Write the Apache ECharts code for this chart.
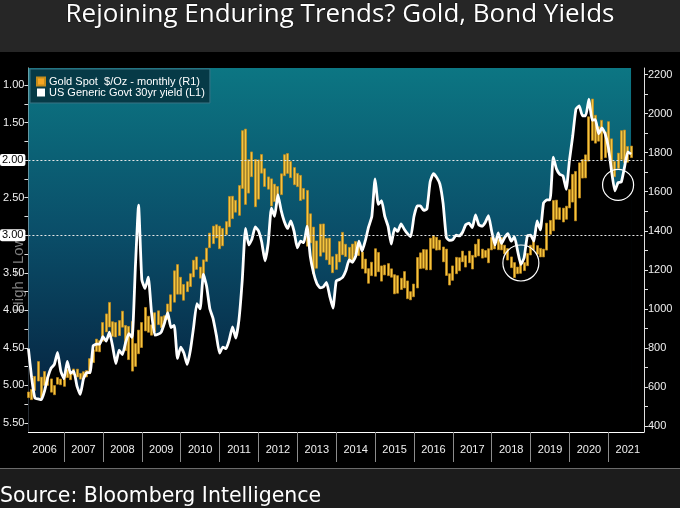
<!DOCTYPE html>
<html>
<head>
<meta charset="utf-8">
<script src="https://cdn.jsdelivr.net/npm/echarts@6/dist/echarts.min.js"></script>
<style>html,body{margin:0;padding:0;background:#000}#c{width:680px;height:508px}</style>
</head>
<body>
<div id="c"></div>
<script>
// ---- data ----
const years = ['2006','2007','2008','2009','2010','2011','2012','2013','2014','2015','2016','2017','2018','2019','2020','2021'];
const startMonth = 2; // axis starts Feb 2006, ends Dec 2021
// Gold spot monthly low / high ($/oz), Feb 2006 .. Aug 2021
const goldLow = [
  545,535,582,630,543,608,608,573,560,614,611,
  603,648,637,662,651,640,649,651,668,725,782,780,
  834,882,907,859,856,863,906,786,740,681,705,770,
  802,887,880,865,882,919,904,931,945,987,1034,1075,
  1075,1044,1088,1114,1163,1202,1157,1176,1243,1313,1334,1363,
  1308,1323,1380,1420,1462,1495,1479,1617,1535,1593,1677,1523,
  1562,1695,1627,1613,1527,1550,1564,1585,1682,1694,1672,1636,
  1626,1555,1562,1321,1338,1180,1208,1270,1290,1251,1227,1185,
  1202,1240,1277,1268,1240,1240,1280,1273,1206,1183,1131,1170,
  1167,1190,1142,1174,1170,1162,1077,1080,1099,1107,1052,1046,
  1062,1107,1206,1208,1200,1200,1310,1301,1302,1241,1171,1122,
  1146,1180,1195,1241,1214,1236,1204,1265,1271,1260,1264,1236,
  1302,1307,1303,1302,1282,1250,1211,1160,1180,1182,1196,1221,
  1276,1302,1280,1266,1266,1301,1382,1400,1459,1458,1445,1459,
  1517,1547,1451,1568,1670,1671,1757,1863,1849,1859,1764,1775,
  1802,1717,1677,1720,1765,1750,1751,1775
];
const goldHigh = [
  574,587,654,730,650,679,650,641,607,648,640,
  653,690,673,692,691,669,678,684,745,790,845,837,
  930,974,1033,934,930,940,988,915,910,935,822,891,
  930,1007,962,918,980,990,960,965,1025,1072,1195,1227,
  1162,1125,1139,1180,1249,1266,1214,1251,1311,1388,1424,1431,
  1424,1412,1447,1576,1577,1556,1632,1913,1921,1764,1804,1765,
  1763,1791,1718,1676,1666,1639,1627,1692,1790,1796,1755,1724,
  1694,1684,1617,1607,1487,1419,1348,1434,1435,1361,1362,1267,
  1280,1345,1392,1331,1315,1332,1345,1323,1291,1255,1206,1239,
  1308,1289,1220,1224,1232,1205,1175,1170,1157,1191,1143,1088,
  1127,1263,1287,1304,1303,1362,1375,1367,1352,1317,1306,1180,
  1220,1264,1262,1296,1272,1296,1274,1331,1357,1306,1299,1308,
  1366,1361,1356,1365,1326,1309,1266,1237,1214,1243,1237,1284,
  1326,1346,1324,1310,1306,1439,1453,1555,1557,1518,1516,1526,
  1611,1689,1704,1748,1765,1789,1984,2075,1992,1933,1966,1906,
  1959,1871,1755,1798,1913,1916,1832,1834
];
// US Generic Govt 30yr yield (%), Feb 2006 .. Aug 2021
const yield30 = [
  4.51,4.90,5.17,5.18,5.19,5.07,4.89,4.77,4.72,4.56,4.81,
  4.91,4.68,4.84,4.81,5.01,5.12,4.91,4.83,4.83,4.47,4.45,4.45,
  4.35,4.41,4.29,4.48,4.71,4.53,4.59,4.43,4.31,4.36,3.44,2.60,
  3.59,3.71,3.56,4.03,4.33,4.32,4.29,4.17,4.03,4.23,4.20,4.64,
  4.49,4.57,4.72,4.53,4.22,3.91,3.98,3.52,3.68,3.98,4.11,4.33,
  4.57,4.49,4.51,4.39,4.22,4.37,4.12,3.60,2.91,3.13,3.05,2.89,
  2.94,3.09,3.34,3.11,2.64,2.75,2.46,2.67,2.82,2.91,2.81,2.95,
  3.17,3.08,3.10,2.88,3.28,3.50,3.64,3.70,3.69,3.63,3.81,3.97,
  3.61,3.59,3.56,3.47,3.33,3.36,3.28,3.08,3.21,3.07,2.89,2.75,
  2.25,2.59,2.54,2.75,2.88,3.12,2.91,2.95,2.85,2.92,2.98,3.02,
  2.75,2.61,2.61,2.67,2.65,2.29,2.18,2.23,2.32,2.58,3.03,3.07,
  3.06,3.00,3.01,2.96,2.86,2.84,2.90,2.73,2.86,2.88,2.83,2.74,
  2.95,3.13,2.97,3.11,3.03,2.98,3.08,3.02,3.21,3.39,3.30,3.01,
  3.00,3.08,2.81,2.93,2.57,2.53,2.53,1.96,2.12,2.19,2.21,2.39,
  2.00,1.68,1.32,1.28,1.41,1.41,1.19,1.47,1.46,1.65,1.57,1.65,
  1.83,2.15,2.41,2.30,2.29,2.09,1.89,1.92
];
const yieldLabels = [1.00,1.50,2.50,3.50,4.00,4.50,5.00,5.50];
const yieldTicks = [1,1.25,1.5,1.75,2,2.25,2.5,2.75,3,3.25,3.5,3.75,4,4.25,4.5,4.75,5,5.25,5.5];
const yieldRefLines = [2.00, 3.00];
const goldLabels = [400,600,800,1000,1200,1400,1600,1800,2000,2200];
const goldTicks = [400,500,600,700,800,900,1000,1100,1200,1300,1400,1500,1600,1700,1800,1900,2000,2100,2200];
const goldLast = 1801;
const circleMarks = [['2018-10', 3.37, 36], ['2021-04', 2.33, 31]];
const goldName = 'Gold Spot  $/Oz - monthly (R1)';
const yieldName = 'US Generic Govt 30yr yield (L1)';

// ---- build ----
const categories = [];
years.forEach(y => { for (let m = 1; m <= 12; m++) { if (y === '2006' && m < startMonth) continue; categories.push(y + '-' + String(m).padStart(2,'0')); } });
const goldData = goldLow.map((l, i) => [l, goldHigh[i], l, goldHigh[i]]);
const lastDataCat = categories[yield30.length - 1];

const chart = echarts.init(document.getElementById('c'), null, {renderer: 'canvas'});
const axisFont = {color: '#f0f0f0', fontSize: 11, fontFamily: 'Liberation Sans'};
chart.setOption({
  animation: false,
  backgroundColor: '#000',
  title: [
    {text: 'Rejoining Enduring Trends? Gold, Bond Yields', left: 'center', top: 2, padding: 0,
     textStyle: {color: '#fff', fontSize: 26, fontWeight: 'normal', fontFamily: 'Open Sans',
                 textBorderColor: '#111', textBorderWidth: 1}},
    {text: 'Source: Bloomberg Intelligence', left: 0, top: 486, padding: 0,
     textStyle: {color: '#fff', fontSize: 20.5, fontWeight: 'normal', fontFamily: 'DejaVu Sans'}}
  ],
  graphic: [
    {type: 'rect', z: -10, shape: {x: 0, y: 0, width: 680, height: 52}, style: {fill: '#262626'}},
    {type: 'rect', z: -10, shape: {x: 0, y: 469, width: 680, height: 39}, style: {fill: '#1c1c1c'}},
    {type: 'line', z: -10, shape: {x1: 0, y1: 468.5, x2: 680, y2: 468.5}, style: {stroke: '#6a6a6a', lineWidth: 1}},
    {type: 'text', z: -5, x: 11, y: 312, rotation: Math.PI / 2,
     style: {text: 'High = Low', fill: 'rgba(150,150,150,0.85)', font: '15px "Liberation Sans"'}}
  ],
  legend: {
    orient: 'vertical', left: 30, top: 69, padding: [7, 5, 5, 6], itemGap: 0,
    itemWidth: 8, itemHeight: 8,
    backgroundColor: 'rgba(6,52,64,0.9)', borderColor: '#3b7484', borderWidth: 1,
    textStyle: {color: '#fff', fontSize: 11, fontFamily: 'Liberation Sans', lineHeight: 11, padding: [0,0,0,-1]},
    data: [
      {name: goldName, icon: 'rect', itemStyle: {color: '#f5a623'}},
      {name: yieldName, icon: 'rect', itemStyle: {color: '#ffffff'}}
    ]
  },
  grid: {left: 28, right: 36, top: 68, bottom: 76, containLabel: false},
  xAxis: {
    type: 'category', data: categories, boundaryGap: false,
    axisLine: {lineStyle: {color: '#ffffff', width: 1}},
    axisTick: {show: true, length: 30, interval: (i) => i % 12 === 11, lineStyle: {color: '#8c8c8c'}},
    axisLabel: Object.assign({interval: (i) => i % 12 === 5, formatter: v => v.slice(0, 4), margin: 12}, axisFont),
    splitLine: {show: false}
  },
  yAxis: [
    {type: 'value', inverse: true, min: 0.774, max: 5.62, position: 'left',
     axisLine: {show: true, lineStyle: {color: '#e0e0e0'}},
     axisTick: {show: true, length: 4, customValues: yieldTicks, lineStyle: {color: '#e0e0e0'}},
     axisLabel: Object.assign({customValues: yieldLabels, formatter: v => v.toFixed(2), margin: 4}, axisFont),
     splitLine: {show: false}},
    {type: 'value', min: 369, max: 2234, position: 'right',
     axisLine: {show: true, lineStyle: {color: '#e0e0e0'}},
     axisTick: {show: true, length: 4, customValues: goldTicks, lineStyle: {color: '#e0e0e0'}},
     axisLabel: Object.assign({customValues: goldLabels, formatter: v => String(v), margin: 4}, axisFont),
     splitLine: {show: false}}
  ],
  series: [
    {
      name: 'yieldArea', type: 'line', yAxisIndex: 0, z: 2, data: yield30,
      showSymbol: false, silent: true, lineStyle: {width: 0, opacity: 0}, smooth: 0.15,
      areaStyle: {color: '#000', opacity: 1, origin: 'end'},
      markArea: {
        silent: true, z: 1,
        itemStyle: {color: {type: 'linear', x: 0, y: 0, x2: 0, y2: 1, colorStops: [
          {offset: 0, color: '#0c7683'}, {offset: 0.45, color: '#0a4e69'}, {offset: 1, color: '#051b38'}]}},
        data: [[{xAxis: categories[0], yAxis: 0.774}, {xAxis: lastDataCat, yAxis: 5.62}]]
      }
    },
    {
      name: goldName, type: 'candlestick', yAxisIndex: 1, z: 3, data: goldData, barWidth: 2.5,
      itemStyle: {color: '#f6c53e', color0: '#f6c53e', borderColor: '#c48c1c', borderColor0: '#c48c1c', borderWidth: 0.7},
      markLine: {
        silent: true, symbol: 'none',
        lineStyle: {opacity: 0},
        label: {show: true, position: 'end', distance: 4, formatter: String(goldLast), color: '#000',
                backgroundColor: '#f5a800', padding: [2, 3, 1, 3], fontSize: 11, fontFamily: 'Liberation Sans'},
        data: [{yAxis: goldLast}]
      }
    },
    {
      name: yieldName, type: 'line', yAxisIndex: 0, z: 4, data: yield30, color: '#ffffff',
      showSymbol: false, lineStyle: {color: '#ffffff', width: 2.8}, smooth: 0.15,
      markLine: {
        silent: true, symbol: 'none', z: 5,
        lineStyle: {color: '#e8e8e8', type: [2, 2], width: 1},
        label: {show: true, position: 'start', distance: 3, formatter: p => p.value.toFixed(2), color: '#000',
                backgroundColor: '#ffffff', borderRadius: 2, padding: [1, 2, 0, 2], fontSize: 11, fontFamily: 'Liberation Sans'},
        data: yieldRefLines.map(v => ({yAxis: v}))
      },
      markPoint: {
        silent: true, symbol: 'circle',
        itemStyle: {color: 'rgba(0,0,0,0)', borderColor: '#ffffff', borderWidth: 1.2},
        label: {show: false},
        data: circleMarks.map(c => ({coord: [c[0], c[1]], symbolSize: c[2]}))
      }
    }
  ]
});
</script>
</body>
</html>
